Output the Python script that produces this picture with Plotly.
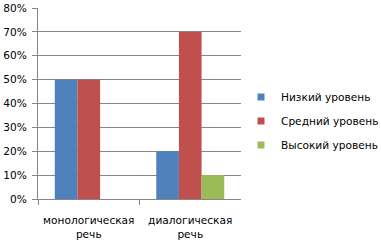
import plotly.graph_objects as go

categories = ["монологическая<br>речь", "диалогическая<br>речь"]
series_names = ["Низкий уровень", "Средний уровень", "Высокий уровень"]
low = [0.50, 0.20]
mid = [0.50, 0.70]
high = [0.0, 0.10]
colors = ["#4F81BD", "#C0504D", "#9BBB59"]
y_ticks = [0, 0.1, 0.2, 0.3, 0.4, 0.5, 0.6, 0.7, 0.8]

FONT = "DejaVu Sans"
FS = 10.6
fig = go.Figure()
for i, (name, vals) in enumerate(zip(series_names, [low, mid, high])):
    fig.add_trace(go.Bar(x=categories, y=vals, name=name, marker_color=colors[i],
                         marker_line_width=0, legendgroup=str(i), showlegend=False))
for i, name in enumerate(series_names):
    fig.add_trace(go.Scatter(x=[None], y=[None], mode="markers", name=name,
                             marker=dict(symbol="square", size=7, color=colors[i]),
                             legendgroup=str(i), showlegend=True))

fig.update_layout(
    width=381, height=245,
    margin=dict(l=38, r=138, t=8, b=46),
    paper_bgcolor="white", plot_bgcolor="white",
    barmode="group", bargap=0.33, bargroupgap=0,
    font=dict(family=FONT, size=FS, color="#000000"),
    showlegend=True,
    legend=dict(xref="container", yref="container", x=241 / 381, y=(245 - 121) / 245,
                yanchor="middle", xanchor="left",
                font=dict(family=FONT, size=FS, color="#000000"),
                tracegroupgap=5, itemwidth=30, bgcolor="rgba(0,0,0,0)"),
)
fig.update_yaxes(range=[0, 0.8], tickvals=y_ticks, tickformat=".0%",
                 showgrid=True, gridcolor="#868686", gridwidth=1,
                 showline=True, linecolor="#868686", linewidth=1,
                 ticks="outside", ticklen=5, tickcolor="#868686",
                 ticklabelstandoff=3,
                 zeroline=False, automargin=False)
fig.update_xaxes(showgrid=False, showline=True, linecolor="#868686", linewidth=1,
                 ticks="outside", ticklen=5, tickcolor="#868686",
                 tickson="boundaries", zeroline=False, tickangle=0,
                 ticklabelstandoff=11, automargin=False)

fig.write_html("out.html")
